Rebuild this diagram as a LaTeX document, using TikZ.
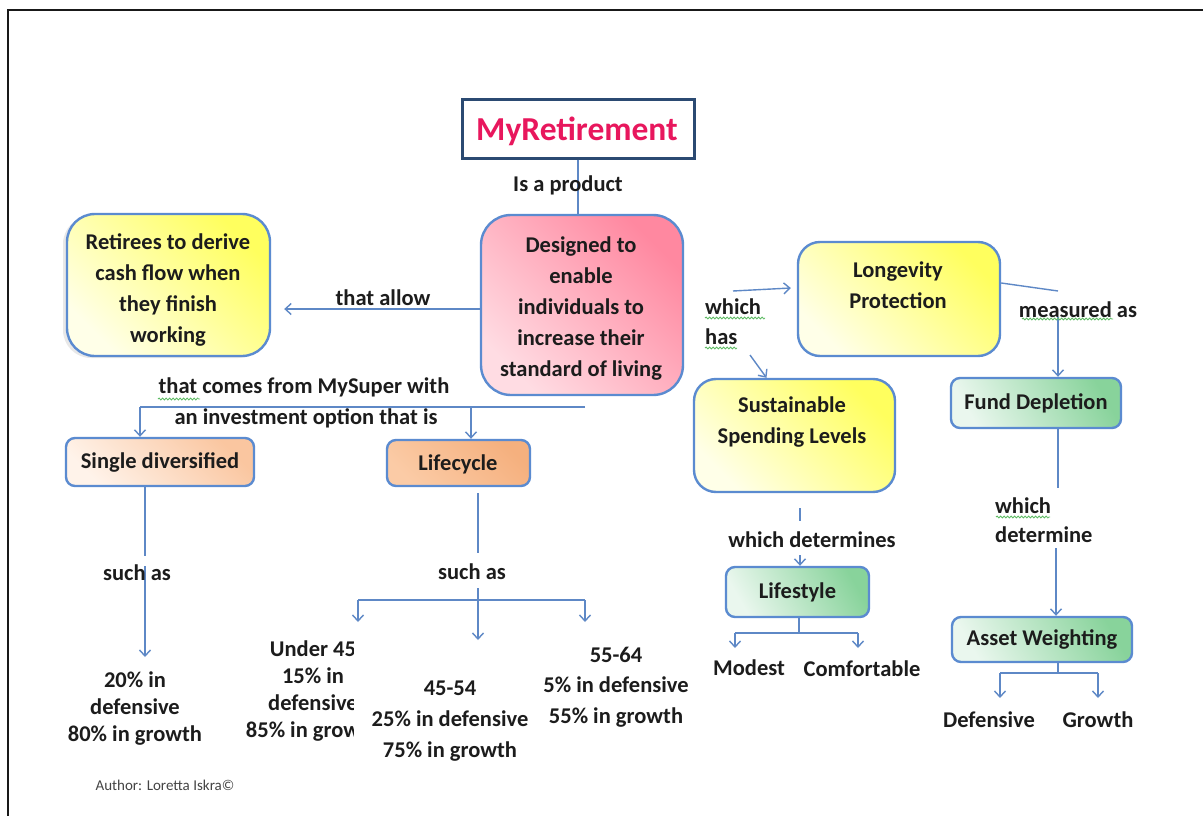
\documentclass[tikz,border=0pt]{standalone}
\usepackage{fontspec}
\setmainfont{Carlito}
\usetikzlibrary{arrows.meta,shadows,decorations.pathmorphing}
\definecolor{txt}{HTML}{1C1C1C}
\definecolor{bxc}{HTML}{5B8BD0}
\definecolor{cn}{HTML}{5E88C6}
\definecolor{navy}{HTML}{2B4A72}
\definecolor{pinkred}{HTML}{E8175D}
\definecolor{yl}{HTML}{FFFFE8}
\definecolor{yd}{HTML}{FFFF5E}
\definecolor{pl}{HTML}{FFDCE3}
\definecolor{pd}{HTML}{FF88A0}
\definecolor{peL}{HTML}{FFF3EA}
\definecolor{peD}{HTML}{FAC6A0}
\definecolor{orL}{HTML}{FBCBA6}
\definecolor{orD}{HTML}{F5B07E}
\definecolor{gL}{HTML}{EAF7EE}
\definecolor{gD}{HTML}{88D39B}
\definecolor{wv}{HTML}{5DBB63}
\definecolor{auth}{HTML}{444444}
\begin{document}
\begin{tikzpicture}[x=1pt,y=-1pt,
  box/.style={draw=bxc, line width=2.4pt, text=txt, align=center, inner sep=0pt,
    font=\bfseries\fontsize{22.5}{31}\selectfont},
  grad/.style 2 args={left color=#1, right color=#2, shading angle=135},
  lbl/.style={text=txt, align=center, inner sep=0pt, font=\bfseries\fontsize{22.5}{31}\selectfont},
  lblb/.style={text=txt, align=center, inner sep=0pt, font=\bfseries\fontsize{22.5}{27}\selectfont},
  conn/.style={draw=cn, line width=1.4pt},
  arr/.style={-{Straight Barb[length=6pt,width=11pt]}},
  wavy/.style={draw=wv, line width=0.8pt, decorate, decoration={snake, segment length=3.5pt, amplitude=1pt}}
]
\fill[white] (0,0) rectangle (1203,816);
\useasboundingbox (0,0) rectangle (1203,816);
% frame
\draw[line width=2.6pt, black!90] (8,816) -- (8,10) -- (1203,10);

% boxes
\node[draw=navy, line width=3pt, fill=white, minimum width=232pt, minimum height=58pt, inner sep=0pt] (mr) at (578,129) {};
\node[text=pinkred, font=\bfseries\fontsize{33.5}{38}\selectfont, inner sep=0pt] (mrT) at (577,131) {MyRetirement};

\node[box, rounded corners=28pt, minimum width=203pt, minimum height=142pt, grad={yl}{yd},
  drop shadow={shadow xshift=-4pt, shadow yshift=-2pt, opacity=0.18}] (ret) at (168.5,285) {};
\node[lbl] (retT) at (168,290) {Retirees to derive\\cash flow when\\they finish\\working};

\node[box, rounded corners=30pt, minimum width=202pt, minimum height=180pt, grad={pl}{pd}] (des) at (582,305) {};
\node[lbl] (desT) at (581,309) {Designed to\\enable\\individuals to\\increase their\\standard of living};

\node[box, rounded corners=22pt, minimum width=202pt, minimum height=114pt, grad={yl}{yd}] (long) at (899,299) {};
\node[lbl] (longT) at (898,285) {Longevity\\Protection};

\node[box, rounded corners=22pt, minimum width=201pt, minimum height=113pt, grad={yl}{yd}] (sus) at (794.5,435.5) {};
\node[lbl] (susT) at (792,422) {Sustainable\\Spending Levels};

\node[box, rounded corners=9pt, minimum width=188pt, minimum height=48pt, grad={peL}{peD}] (sd) at (160,462) {Single diversified};
\node[box, rounded corners=9pt, minimum width=143pt, minimum height=46pt, grad={orL}{orD}] (lc) at (458.5,463) {};
\node[lbl] (lcT) at (458,464) {Lifecycle};
\node[box, rounded corners=9pt, minimum width=170pt, minimum height=50pt, left color=gL, right color=gD, shading angle=120] (fd) at (1036,403) {Fund Depletion};
\node[box, rounded corners=9pt, minimum width=143pt, minimum height=50pt, left color=gL, right color=gD, shading angle=120] (ls) at (797.5,592) {Lifestyle};
\node[box, rounded corners=9pt, minimum width=180pt, minimum height=45pt, left color=gL, right color=gD, shading angle=120] (aw) at (1042,639.5) {Asset Weighting};

% MyRetirement -> Designed
\draw[conn] (mr.south) -- (mr.south |- des.north);
\node[lbl] (isp) at (568,185) {Is a product};

% Designed -> Retirees
\draw[conn,arr,shorten >=13pt] ([yshift=-4pt]des.west) -- (ret.east |- 0,309);
\node[lbl] (tal) at (383,298) {that allow};

% bracket to investment options
\coordinate (b0) at (585,407);
\coordinate (b1) at (140,407);
\coordinate (b2) at (471,407);
\draw[conn] (b0) -- (b1);
\draw[conn,arr] (b1) -- (b1 |- sd.north);
\draw[conn,arr] (b2) -- (b2 |- lc.north);
\node[lbl] (tc1) at (304,387) {that comes from MySuper with};
\node[lbl] (tc2) at (306,418) {an investment option that is};

% single diversified branch
\coordinate (s1) at (145,556);
\coordinate (s2) at (145,566);
\coordinate (s3) at (145,657);
\draw[conn] (sd.south -| s1) -- (s1);
\draw[conn,arr] (s2) -- (s3);
\node[lbl] (sa1) at (137,573) {such as};
\node[lblb] (sdT) at (135,709) {20\% in\\defensive\\80\% in growth};

% lifecycle branch
\coordinate (l0) at (478,493);
\coordinate (l1) at (478,553);
\coordinate (l2) at (478,588);
\coordinate (l3) at (478,640);
\coordinate (lL) at (358,600);
\coordinate (lR) at (585,600);
\draw[conn] (l0) -- (l1);
\draw[conn,arr] (l2) -- (l3);
\draw[conn] (lL) -- (lR);
\draw[conn,arr] (lL) -- ++(0,22);
\draw[conn,arr] (lR) -- ++(0,22);
\node[lbl] (sa2) at (472,572) {such as};
\begin{scope}
  \clip (200,625) rectangle (353,760);
  \node[lblb] (u45) at (313,691) {Under 45\\15\% in\\defensive\\85\% in growth};
\end{scope}
\node[lbl] (a45) at (450,721) {45-54\\25\% in defensive\\75\% in growth};
\node[lblb, font=\bfseries\fontsize{22.5}{30.5}\selectfont] (a55) at (616,687) {55-64\\5\% in defensive\\55\% in growth};

% which has
\coordinate (w0) at (733,291);
\coordinate (w1) at (750,355);
\draw[conn,arr] (w0) -- ([xshift=-6pt,yshift=11pt]long.west);
\draw[conn,arr] (w1) -- ([xshift=-28pt]sus.north);
\node[lbl, anchor=west] (wh1) at (705,307) {which};
\node[lbl, anchor=west] (wh2) at (705,337) {has};

% longevity -> fund depletion
\coordinate (m0) at (1058,291);
\coordinate (m1) at (1058,317);
\draw[conn] ([yshift=16pt]long.east) -- (m0);
\draw[conn,arr] (m1) -- (m1 |- fd.north);
\node[lbl] (mea) at (1078,310) {measured as};

% fund depletion -> asset weighting
\coordinate (f1) at (1058,488);
\coordinate (f2) at (1056,548);
\draw[conn] (fd.south -| f1) -- (f1);
\draw[conn,arr] (f2) -- (f2 |- aw.north);
\node[lbl, anchor=west] (wd1) at (995,506) {which};
\node[lbl, anchor=west] (wd2) at (995,535) {determine};

% sustainable -> lifestyle
\coordinate (d0) at (800,508);
\coordinate (d1) at (800,521);
\coordinate (d2) at (800,555);
\draw[conn] (d0) -- (d1);
\draw[conn,arr] (d2) -- (d2 |- ls.north);
\node[lbl] (wdet) at (812,540) {which determines};

% lifestyle -> modest / comfortable
\coordinate (e0) at (799,633);
\coordinate (eL) at (735,633);
\coordinate (eR) at (858,633);
\draw[conn] (ls.south -| e0) -- (e0);
\draw[conn] (eL) -- (eR);
\draw[conn,arr] (eL) -- ++(0,15);
\draw[conn,arr] (eR) -- ++(0,15);
\node[lbl] (mod) at (749,668) {Modest};
\node[lbl] (com) at (862,669) {Comfortable};

% asset weighting -> defensive / growth
\coordinate (g0) at (1058,673);
\coordinate (gL) at (1000,673);
\coordinate (gR) at (1098,673);
\draw[conn] (aw.south -| g0) -- (g0);
\draw[conn] (gL) -- (gR);
\draw[conn,arr] (gL) -- ++(0,25);
\draw[conn,arr] (gR) -- ++(0,25);
\node[lbl] (def) at (989,720) {Defensive};
\node[lbl] (gro) at (1098,720) {Growth};

% spell-check underlines
\draw[wavy] (158,399) -- (200,399);
\draw[wavy] (705,318) -- (765,318);
\draw[wavy] (705,348) -- (737,348);
\draw[wavy] (1022,319) -- (1113,319);
\draw[wavy] (996,517) -- (1050,517);

% author
\node[text=auth, font=\fontsize{15}{17}\selectfont, inner sep=0pt] (au) at (165,785) {Author: Loretta Iskra©};
\end{tikzpicture}
\end{document}
